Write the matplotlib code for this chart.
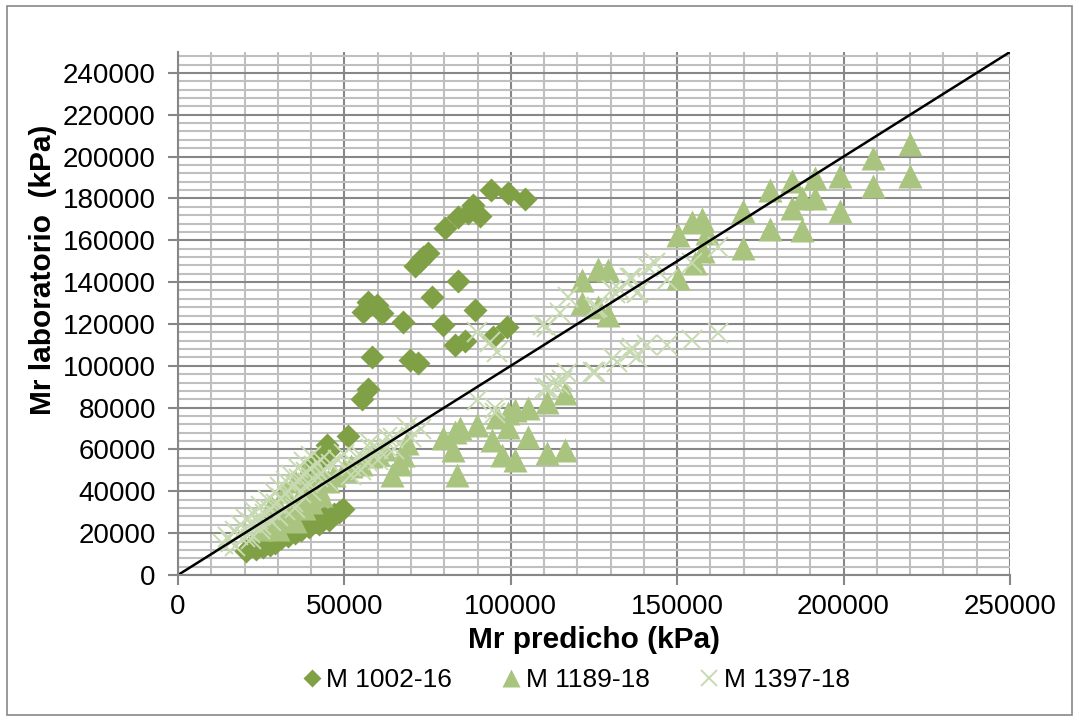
import matplotlib
matplotlib.use("Agg")
import matplotlib.pyplot as plt
from matplotlib.ticker import MultipleLocator
from matplotlib.patches import Rectangle

plt.rcParams['font.family'] = ['Liberation Sans', 'DejaVu Sans']

# M 1002-16 (predicted, lab)
m1002_x = [94200, 99200, 104300, 88600, 87100, 90800, 84100, 80200, 75100, 73500, 72700, 71200,
           84100, 76300, 89200, 79600, 98900, 83200, 86300, 94700,
           57100, 59700, 55600, 61200, 67600, 58200, 69700, 72100, 57100, 55300, 51100,
           44700, 45000, 42500, 40000, 41000,
           20500, 22000, 23500, 24500, 25500, 27000, 27500, 29000, 29500, 31000, 32000, 33000,
           34000, 35000, 36000, 37000, 38500, 39500, 41000, 42500, 44000, 45500, 47000, 48500, 49500]
m1002_y = [183800, 182800, 179900, 177000, 172800, 171800, 170900, 166100, 153700, 152000, 150300, 147900,
           140600, 132700, 126500, 119300, 118400, 109800, 112000, 113700,
           130400, 128900, 125700, 125000, 120900, 104200, 102600, 101200, 88800, 84000, 66300,
           62000, 59500, 55000, 52000, 47000,
           11500, 14000, 12500, 16000, 13500, 17500, 14500, 15500, 19000, 17500, 21500, 18500,
           23000, 20000, 24500, 21500, 25500, 23000, 26500, 24500, 27500, 26500, 29000, 30000, 31500]

# M 1189-18
m1189_x = [220000, 208900, 220000, 208900, 198900, 191400, 184500, 177900, 187500, 191400, 184500,
           198900, 169800, 177900, 187500, 169800,
           157500, 154500, 150200, 159000, 157800, 155400, 150200,
           126200, 129200, 121400, 121400, 126200, 129200,
           110900, 116300, 110900, 116300, 105200, 101300, 99200, 95900, 89800, 84700, 83200, 79600,
           99200, 94400, 105200, 82600, 97400, 101300, 83800, 64300, 67600, 68800, 66700,
           25000, 27000, 29000, 30000, 31000, 33000, 34000, 35000, 36000, 38000, 39000, 40000, 42000,
           43000, 45000, 47000, 50000, 52000, 55000, 58000, 60000, 62000, 35000, 38000, 32000, 28000, 42000]
m1189_y = [206200, 199500, 190900, 186100, 190900, 190000, 188500, 183800, 180400, 180400, 175600,
           174200, 174200, 165600, 164700, 156100,
           170400, 168500, 162300, 163700, 155100, 148900, 142200,
           146500, 145600, 140800, 129800, 127900, 124100,
           82600, 86900, 58200, 59700, 79700, 78800, 77300, 75400, 71600, 70200, 68200, 65400,
           70600, 64400, 65900, 59700, 57300, 54900, 47700, 47700, 57300, 63000, 53000,
           22000, 25000, 27000, 22000, 30000, 28000, 33000, 26000, 36000, 32000, 40000, 35000, 42000,
           38000, 45000, 48000, 50000, 52000, 53000, 57000, 58000, 60000, 45000, 48000, 40000, 33000, 50000]

# M 1397-18
m1397_x = [162300, 154500, 141200, 136400, 147000, 138200, 131300, 143300, 135800, 137900, 132800,
           125300, 117200, 114800, 109700, 130400, 125900, 110900, 89800, 93800, 95900,
           162300, 154500, 147000, 140900, 136400, 137900, 135800, 131900, 125300, 116900, 115400,
           112700, 110300, 111200, 114800, 124700, 130700,
           89800, 95300, 95300, 68800, 64600, 62800, 60000, 57700, 53800, 62800,
           13500, 15000, 16000, 17000, 18000, 19000, 20000, 20500, 21500, 22000, 23000, 24000, 24500,
           25000, 26000, 27000, 27500, 28000, 29000, 29500, 30500, 31000, 32000, 32500, 33000, 34000,
           34500, 35000, 36000, 36500, 37000, 38000, 38500, 39000, 40000, 41000, 42000, 43000, 44000,
           46000, 48000, 50000, 52000, 55000, 58000, 45000, 40000, 35000, 30000, 25000, 20000, 17000, 22000,
           52000, 55000, 57000, 60000, 65000, 70000, 73000]
m1397_y = [156600, 148900, 147000, 142200, 140800, 135100, 134600, 148900, 142200, 134600, 136000,
           127400, 132700, 125000, 119300, 136000, 127900, 118400, 116000, 111200, 106400,
           115500, 112200, 109800, 109800, 108400, 104000, 106400, 101700, 96900, 96400, 93100,
           91600, 89300, 89300, 90700, 96900, 103600,
           83500, 79700, 77300, 70600, 65400, 61100, 60000, 63000, 56300, 65900,
           15000, 18000, 16000, 21000, 19000, 24000, 22000, 27000, 20000, 25000, 30000, 27000, 22000,
           33000, 29000, 36000, 31000, 26000, 39000, 34000, 42000, 37000, 31000, 45000, 40000, 48000,
           35000, 43000, 51000, 46000, 39000, 54000, 49000, 44000, 57000, 52000, 47000, 55000, 50000,
           53000, 55000, 58000, 52000, 57000, 60000, 45000, 40000, 32000, 28000, 24000, 18000, 14000, 17000,
           48000, 50000, 54000, 55000, 60000, 66000, 70000]

line_x = [0, 250000]
line_y = [0, 250000]

c1002 = '#80A046'
c1189 = '#A9C47F'
c1397 = '#C8DAB2'

fig = plt.figure(figsize=(10.79, 7.21), dpi=100)
ax = fig.add_axes([0.165, 0.2025, 0.771, 0.7254])

ax.set_xlim(0, 250000)
ax.set_ylim(0, 250000)
ax.xaxis.set_major_locator(MultipleLocator(50000))
ax.xaxis.set_minor_locator(MultipleLocator(10000))
ax.yaxis.set_major_locator(MultipleLocator(20000))
ax.yaxis.set_minor_locator(MultipleLocator(4000))
ax.set_yticks(range(0, 240001, 20000))

ax.grid(which='minor', color='#BFBFBF', lw=1.5)
ax.grid(which='major', color='#878787', lw=1.5)
ax.set_axisbelow(True)

for s in ['top', 'right']:
    ax.spines[s].set_visible(False)
for s in ['left', 'bottom']:
    ax.spines[s].set_color('#878787')
    ax.spines[s].set_linewidth(1.5)

ax.tick_params(which='major', direction='out', length=7, width=1.5, color='#878787',
               labelsize=20, pad=7)
ax.tick_params(axis='y', pad=9)
ax.tick_params(which='minor', length=0)

ax.plot(m1002_x, m1002_y, 'D', ms=12, color=c1002, mec='none', label='M 1002-16')
ax.plot(m1189_x, m1189_y, '^', ms=17, color=c1189, mec='none', label='M 1189-18')
ax.plot(m1397_x, m1397_y, 'x', ms=15, color=c1397, mew=1.4, label='M 1397-18')
ax.plot(line_x, line_y, color='black', lw=1.8)

ax.set_xlabel('Mr predicho (kPa)', fontsize=21.5, fontweight='bold', labelpad=4)
ax.set_ylabel('Mr laboratorio  (kPa)', fontsize=21.5, fontweight='bold')
ax.yaxis.set_label_coords(-0.145, 0.583)

h, l = ax.get_legend_handles_labels()
fig.legend(h, l, loc='center', bbox_to_anchor=(576 / 1079, 1 - 680 / 721), ncol=3,
           frameon=False, fontsize=19, handlelength=0.7, handletextpad=0.2,
           columnspacing=1.9, markerscale=0.75)

fig.patches.append(Rectangle((7 / 1079, 1 - 715 / 721), 1065 / 1079, 709 / 721,
                             transform=fig.transFigure, fill=False, ec='#888888', lw=1.2))

fig.savefig('out.png', dpi=100)
